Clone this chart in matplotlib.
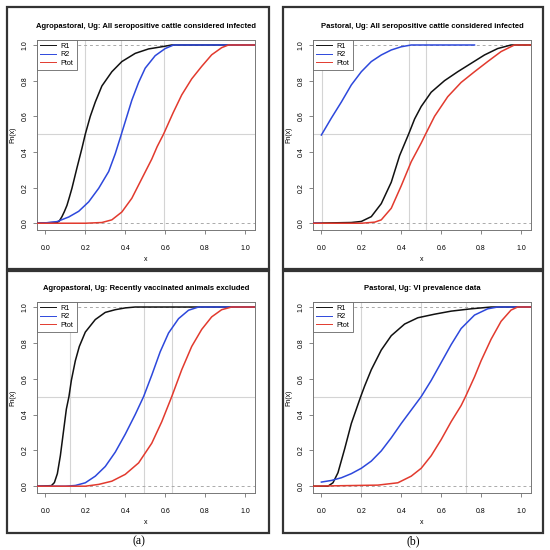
import numpy as np
import matplotlib
matplotlib.use('Agg')
import matplotlib.pyplot as plt
from matplotlib.patches import Rectangle

plt.rcParams['font.family'] = ['Liberation Sans', 'DejaVu Sans']

titles = ['Agropastoral, Ug: All seropositive cattle considered infected',
          'Pastoral, Ug: All seropositive cattle considered infected',
          'Agropastoral, Ug: Recently vaccinated animals excluded',
          'Pastoral, Ug: VI prevalence data']
series_names = ['R1', 'R2', 'Ptot']
tick_vals = [0.0, 0.2, 0.4, 0.6, 0.8, 1.0]
tick_labels = ['0.0', '0.2', '0.4', '0.6', '0.8', '1.0']
nan = np.nan

# panel (a) top: agropastoral, all seropositive
ag_all_r1_x = [-0.05, 0.0, 0.06, 0.07, 0.083, 0.095, 0.108, 0.12, 0.133, 0.158, 0.183, 0.2,
               0.225, 0.25, 0.283, 0.333, 0.383, 0.45, 0.517, 0.583, 0.633, 1.06]
ag_all_r1_y = [0.0, 0.002, 0.005, 0.013, 0.037, 0.065, 0.10, 0.145, 0.196, 0.31, 0.42, 0.5,
               0.60, 0.68, 0.77, 0.85, 0.907, 0.953, 0.978, 0.99, 1.0, 1.0]
ag_all_r2_x = [-0.05, 0.0, 0.058, 0.117, 0.167, 0.217, 0.267, 0.317, 0.35, 0.378, 0.4, 0.433,
               0.467, 0.5, 0.55, 0.6, 0.642, 1.06]
ag_all_r2_y = [0.0, 0.002, 0.009, 0.035, 0.067, 0.12, 0.196, 0.29, 0.39, 0.49, 0.57, 0.69,
               0.79, 0.87, 0.94, 0.98, 1.0, 1.0]
ag_all_pt_x = [-0.05, 0.2, 0.283, 0.333, 0.383, 0.433, 0.483, 0.533, 0.56, 0.592, 0.64, 0.683,
               0.733, 0.783, 0.833, 0.883, 0.917, 1.06]
ag_all_pt_y = [0.0, 0.0, 0.004, 0.019, 0.063, 0.14, 0.25, 0.36, 0.43, 0.5, 0.62, 0.72,
               0.81, 0.88, 0.945, 0.985, 1.0, 1.0]
ag_all_med = [0.2, 0.378, 0.592]

# panel (b) top: pastoral, all seropositive
pa_all_r1_x = [-0.05, 0.15, 0.2, 0.25, 0.3, 0.35, 0.392, 0.437, 0.467, 0.5, 0.55, 0.617,
               0.683, 0.75, 0.817, 0.883, 0.95, 1.06]
pa_all_r1_y = [0.0, 0.004, 0.01, 0.037, 0.11, 0.23, 0.38, 0.5, 0.585, 0.655, 0.735, 0.80,
               0.85, 0.897, 0.944, 0.98, 1.0, 1.0]
pa_all_r2_x = [-0.05, 0.0, nan, 0.0, 0.05, 0.1, 0.15, 0.2, 0.25, 0.3, 0.35, 0.4, 0.45, 0.767]
pa_all_r2_y = [0.0, 0.0, nan, 0.495, 0.59, 0.68, 0.776, 0.85, 0.907, 0.944, 0.972, 0.99, 1.0, 1.0]
pa_all_pt_x = [-0.05, 0.2, 0.267, 0.3, 0.35, 0.4, 0.45, 0.5, 0.522, 0.567, 0.633, 0.7,
               0.767, 0.833, 0.9, 0.967, 1.06]
pa_all_pt_y = [0.0, 0.0, 0.006, 0.019, 0.084, 0.21, 0.345, 0.45, 0.5, 0.60, 0.71, 0.79,
               0.85, 0.907, 0.963, 1.0, 1.0]
pa_all_med = [0.003, 0.437, 0.522]

# panel (a) bottom: agropastoral, vaccinated excluded
ag_vac_r1_x = [-0.05, 0.03, 0.045, 0.06, 0.075, 0.09, 0.105, 0.118, 0.13, 0.15, 0.17, 0.2,
               0.25, 0.3, 0.35, 0.4, 0.45, 1.06]
ag_vac_r1_y = [0.0, 0.003, 0.02, 0.07, 0.17, 0.3, 0.43, 0.5, 0.59, 0.7, 0.78, 0.86,
               0.93, 0.97, 0.985, 0.995, 1.0, 1.0]
ag_vac_r2_x = [-0.05, 0.1, 0.15, 0.2, 0.25, 0.3, 0.35, 0.4, 0.45, 0.492, 0.533, 0.575,
               0.617, 0.667, 0.717, 0.767, 1.06]
ag_vac_r2_y = [0.0, 0.0, 0.004, 0.019, 0.056, 0.11, 0.19, 0.29, 0.40, 0.5, 0.62, 0.75,
               0.855, 0.935, 0.982, 1.0, 1.0]
ag_vac_pt_x = [-0.05, 0.2, 0.267, 0.333, 0.4, 0.467, 0.533, 0.583, 0.633, 0.683, 0.733,
               0.783, 0.833, 0.883, 0.933, 1.06]
ag_vac_pt_y = [0.0, 0.0, 0.01, 0.028, 0.066, 0.13, 0.24, 0.36, 0.5, 0.65, 0.78,
               0.875, 0.945, 0.985, 1.0, 1.0]
ag_vac_med = [0.122, 0.492, 0.633]

# panel (b) bottom: pastoral, VI prevalence
pa_vi_r1_x = [-0.05, 0.033, 0.058, 0.083, 0.117, 0.15, 0.175, 0.197, 0.217, 0.25, 0.3, 0.35,
              0.417, 0.483, 0.567, 0.65, 0.75, 0.85, 1.06]
pa_vi_r1_y = [0.0, 0.0, 0.019, 0.075, 0.21, 0.35, 0.43, 0.5, 0.56, 0.65, 0.76, 0.84,
              0.905, 0.94, 0.96, 0.977, 0.99, 1.0, 1.0]
pa_vi_r2_x = [0.0, 0.05, 0.1, 0.15, 0.2, 0.25, 0.3, 0.35, 0.4, 0.45, 0.5, 0.55, 0.6, 0.65,
              0.7, 0.767, 0.833, 0.883, 1.06]
pa_vi_r2_y = [0.023, 0.032, 0.047, 0.07, 0.1, 0.14, 0.197, 0.27, 0.35, 0.425, 0.5, 0.59, 0.69,
              0.79, 0.88, 0.955, 0.99, 1.0, 1.0]
pa_vi_pt_x = [-0.05, 0.283, 0.383, 0.45, 0.5, 0.55, 0.6, 0.65, 0.7, 0.722, 0.767, 0.8,
              0.85, 0.9, 0.95, 0.983, 1.06]
pa_vi_pt_y = [0.0, 0.006, 0.019, 0.056, 0.1, 0.17, 0.26, 0.36, 0.45, 0.5, 0.61, 0.70,
              0.82, 0.92, 0.983, 1.0, 1.0]
pa_vi_med = [0.197, 0.5, 0.722]

panels = [
    ([(ag_all_r1_x, ag_all_r1_y), (ag_all_r2_x, ag_all_r2_y), (ag_all_pt_x, ag_all_pt_y)], ag_all_med),
    ([(pa_all_r1_x, pa_all_r1_y), (pa_all_r2_x, pa_all_r2_y), (pa_all_pt_x, pa_all_pt_y)], pa_all_med),
    ([(ag_vac_r1_x, ag_vac_r1_y), (ag_vac_r2_x, ag_vac_r2_y), (ag_vac_pt_x, ag_vac_pt_y)], ag_vac_med),
    ([(pa_vi_r1_x, pa_vi_r1_y), (pa_vi_r2_x, pa_vi_r2_y), (pa_vi_pt_x, pa_vi_pt_y)], pa_vi_med),
]
colors = ['#111111', '#2d48dc', '#e23a2e']

W = H = 550
fig = plt.figure(figsize=(5.5, 5.5), dpi=100)


def px_axes(x0, y0, x1, y1):
    # pixel box (top-left origin) -> figure axes
    return fig.add_axes([x0 / W, 1 - y1 / H, (x1 - x0) / W, (y1 - y0) / H])


# panel frames
frames = [(7, 7, 269, 269), (283, 7, 543, 269), (7, 271, 269, 533), (283, 271, 543, 533)]
for fx0, fy0, fx1, fy1 in frames:
    fig.patches.append(Rectangle((fx0 / W, 1 - fy1 / H), (fx1 - fx0) / W, (fy1 - fy0) / H,
                                 transform=fig.transFigure, fill=False,
                                 edgecolor='#333333', linewidth=1.6))

ax_boxes = [(37, 40, 255, 230), (313, 40, 531, 230), (37, 302, 255, 493), (313, 302, 531, 493)]

for i, ((curves, meds), box) in enumerate(zip(panels, ax_boxes)):
    ax = px_axes(*box)
    ax.set_xlim(-0.042, 1.05)
    ax.set_ylim(-0.038, 1.028)
    for m in meds:
        ax.axvline(m, color='#d4d4d4', lw=0.8, zorder=1)
    ax.axhline(0.5, color='#d4d4d4', lw=0.8, zorder=1)
    for h in (0.0, 1.0):
        ax.axhline(h, color='#aaaaaa', lw=0.7, ls=(0, (3, 3)), zorder=1)
    for (cx, cy), c, name in zip(curves, colors, series_names):
        ax.plot(cx, cy, color=c, lw=1.1, label=name, zorder=3)
    leg = ax.legend(loc='upper left', borderaxespad=0, fontsize=5.2, fancybox=False,
                    edgecolor='#666666', framealpha=1, handlelength=2.2,
                    handletextpad=0.7, borderpad=0.4, labelspacing=0.2)
    leg.get_frame().set_linewidth(0.6)
    for line in leg.get_lines():
        line.set_linewidth(0.7)
    ax.set_xticks(tick_vals)
    ax.set_xticklabels(tick_labels)
    ax.set_yticks(tick_vals)
    ax.set_yticklabels(tick_labels, rotation=90, va='center')
    ax.tick_params(labelsize=5, length=3, width=0.5, color='#555555')
    ax.tick_params(axis='x', pad=8)
    ax.tick_params(axis='y', pad=3)
    for s in ax.spines.values():
        s.set_color('#777777')
        s.set_linewidth(0.7)
    ax.set_title(titles[i], fontsize=5.5, fontweight='bold', pad=9)
    ax.set_xlabel('x', fontsize=5, labelpad=3)
    ax.set_ylabel('Fn(x)', fontsize=5, labelpad=4)

fig.text(139 / W, 1 - 541 / H, '(a)', family=['Liberation Serif', 'DejaVu Serif'],
         fontsize=8.5, ha='center', va='center')
fig.text(413 / W, 1 - 541 / H, '(b)', family=['Liberation Serif', 'DejaVu Serif'],
         fontsize=8.5, ha='center', va='center')

fig.savefig('out.png', dpi=100, facecolor='white')
